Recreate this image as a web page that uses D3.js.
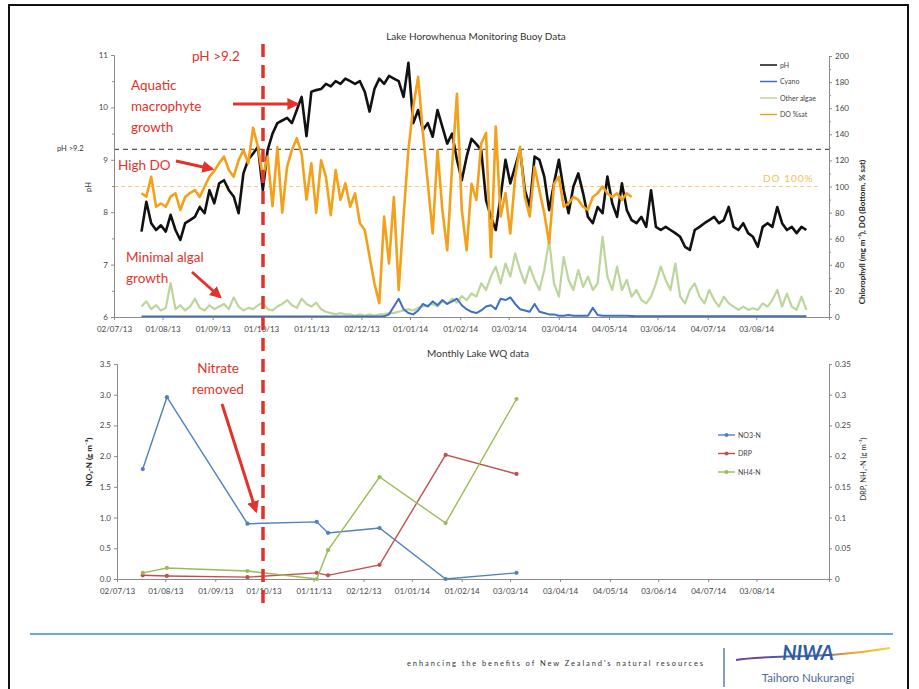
<!DOCTYPE html>
<html>
<head>
<meta charset="utf-8">
<script src="https://cdn.jsdelivr.net/npm/d3@7"></script>
<style>
  body { margin: 0; background: #fff; }
  text { font-family: Lato, 'Open Sans', sans-serif; }
  .axis path, .axis line { stroke: #8a8a8a; }
  .axis text { fill: #444; font-size: 8px; font-family: Lato, sans-serif; }
</style>
</head>
<body>
<div id="chart"></div>
<script>
const width = 919;
const height = 689;

// buoy series, one reading every 3 days from 19/07/13
const buoyStart = new Date(2013, 6, 19);
const buoyStepDays = 3;

const phValues = [
  7.63, 8.2, 7.79, 7.66, 7.75, 7.63, 7.95, 7.66, 7.47, 7.79,
  7.85, 7.91, 8.1, 7.98, 8.42, 8.17, 8.55, 8.61, 8.42, 8.3,
  7.98, 8.74, 9.0, 9.12, 9.25, 8.42, 9.19, 9.5, 9.7, 9.75,
  9.8, 9.7, 9.95, 10.2, 9.45, 10.3, 10.33, 10.35, 10.45, 10.4,
  10.5, 10.45, 10.55, 10.5, 10.45, 10.5, 10.3, 9.92, 10.35, 10.55,
  10.45, 10.6, 10.55, 10.5, 10.2, 10.85, 9.7, 9.95, 9.57, 9.7,
  9.44, 9.95, 9.63, 9.31, 9.5, 9.0, 8.61, 9.06, 9.4,
  9.3, 9.19, 8.23, 7.91, 7.66, 8.3, 9.0, 8.55, 8.87, 9.19,
  8.42, 8.1, 9.06, 9.0, 8.68, 8.04, 8.55, 9.0, 8.42, 7.98,
  8.49, 8.74, 8.36, 7.91, 7.79, 8.1, 7.98, 8.68, 8.17, 7.91,
  8.55, 8.04, 7.85, 7.79, 7.91, 7.72, 8.42, 7.72, 7.66, 7.72,
  7.66, 7.6, 7.53, 7.34, 7.28, 7.66, 7.72, 7.79, 7.85, 7.91,
  7.79, 7.85, 8.1, 7.72, 7.66, 7.79, 7.6, 7.53, 7.34, 7.72,
  7.79, 7.72, 8.1, 7.79, 7.66, 7.72, 7.6, 7.72, 7.66
];

const doValues = [
  94.8, 92.2, 107.5, 84.5, 87, 84.5, 92.2, 94.8, 82, 92,
  95, 97.3, 92, 100, 107.5, 112, 117.8, 122.9, 112.6, 107.5,
  120, 128, 117.8, 145, 130.5, 107.5, 122.9, 85, 130, 80,
  115, 128, 137, 125, 90, 117.8, 80, 120, 107.5, 78,
  112.6, 89.7, 102.4, 84.5, 94.8, 71.8, 66.7, 46.2, 25.8, 10.5,
  76.9, 41, 92, 20.7, 76.9, 128, 161, 184, 140.7, 102.4,
  64, 128, 82, 51, 115, 171, 82, 51, 102,
  89.7, 133, 141, 46, 146, 77, 95, 64, 107.5, 130.5,
  92, 77, 115, 97, 79.5, 56.5, 102, 107.5, 84.5, 87,
  92, 89.7, 84.5, 82, 92, 94.8, 100, 94.8, 92, 94.8,
  89.7, 94.8, 92
];

const algaeValues = [
  8, 12, 6, 9, 5, 7, 26, 6, 9, 5,
  8, 14, 7, 5, 9, 6, 8, 10, 6, 15,
  8, 5, 7, 6, 9, 11, 6, 5, 8, 10,
  13, 9, 7, 14, 10, 8, 11, 6, 4, 3,
  2, 3, 2, 2, 1, 2, 1, 2, 1, 2,
  2, 3, 3, 4, 5, 6, 5, 7, 8, 9,
  10, 8, 12, 10, 14, 11, 16, 13, 18,
  15.6, 25.8, 20.7, 31, 38.6, 25.8, 41, 31, 48.8, 36,
  25.8, 38.6, 28.4, 20.7, 36, 59, 25.8, 15.6, 46, 28.4,
  20.7, 36, 23, 31, 20.7, 25.8, 61.6, 31, 20.7, 38.6,
  20.7, 28.4, 15.6, 20.7, 13, 10.5, 15.6, 25.8, 38.6, 28.4,
  20.7, 41, 15.6, 10.5, 20.7, 25.8, 15.6, 10.5, 20.7, 13,
  8, 15.6, 10.5, 8, 5.4, 8, 5.4, 6.7, 5.4, 10.5,
  8, 13, 20.7, 8, 18, 8, 5.4, 15.6, 5.4
];

const cyanoValues = [
  0.4, 0.4, 0.4, 0.4, 0.4, 0.4, 0.4, 0.4, 0.4, 0.4,
  0.4, 0.4, 0.4, 0.4, 0.4, 0.4, 0.4, 0.4, 0.4, 0.4,
  0.4, 0.4, 0.4, 0.4, 0.4, 0.4, 0.4, 0.4, 0.4, 0.4,
  0.4, 0.4, 0.4, 0.4, 0.4, 0.4, 0.4, 0.4, 0.4, 0.4,
  0.4, 0.4, 0.4, 0.4, 0.4, 0.4, 0.4, 0.4, 0.4, 0.4,
  0.5, 2, 8, 14, 6, 3, 2, 5, 10, 8,
  12, 9, 13, 10, 12, 14, 9, 6, 4, 3,
  5, 8, 9, 6, 14, 13, 15, 10, 6, 5,
  4, 10, 4, 3, 2, 2, 1, 1, 1.5, 1,
  1, 1, 1, 7, 1.5, 1, 1, 1, 1, 1,
  1, 0.8, 0.6, 0.5, 0.5, 0.5, 0.5, 0.5, 0.5, 0.5,
  0.5, 0.5, 0.5, 0.5, 0.5, 0.5, 0.5, 0.5, 0.5, 0.5,
  0.5, 0.5, 0.5, 0.5, 0.5, 0.5, 0.5, 0.5, 0.5, 0.5,
  0.5, 0.5, 0.5, 0.5, 0.5, 0.5, 0.5, 0.5
];

// monthly water quality samples
const wqDates = ['18/07/13', '02/08/13', '21/09/13', '03/11/13', '10/11/13', '12/12/13', '22/01/14', '07/03/14'];
const no3Values = [1.79, 2.96, 0.90, 0.93, 0.75, 0.83, 0.00, 0.10];
const drpValues = [0.006, 0.005, 0.003, 0.010, 0.006, 0.023, 0.202, 0.171];
const nh4Values = [0.010, 0.018, 0.013, 0.000, 0.047, 0.166, 0.091, 0.293];

// tick labels
const dateTicks = ['02/07/13', '01/08/13', '01/09/13', '01/10/13', '01/11/13', '02/12/13', '01/01/14',
  '01/02/14', '03/03/14', '03/04/14', '04/05/14', '03/06/14', '04/07/14', '03/08/14'];
const phTicks = [6, 7, 8, 9, 10, 11];
const chlTicks = [0, 20, 40, 60, 80, 100, 120, 140, 160, 180, 200];
const no3Ticks = [0, 0.5, 1, 1.5, 2, 2.5, 3, 3.5];
const drpTicks = [0, 0.05, 0.1, 0.15, 0.2, 0.25, 0.3, 0.35];

const colorPH = '#111111';
const colorCyano = '#3f6fc2';
const colorAlgae = '#bcd59a';
const colorDO = '#f5a01a';
const colorNO3 = '#4f81bd';
const colorDRP = '#c0504d';
const colorNH4 = '#9bbb59';
const colorRed = '#e4322b';

const parseDate = d3.timeParse('%d/%m/%y');
const fmtDate = d3.timeFormat('%d/%m/%y');
const tickDates = dateTicks.map(parseDate);
const buoyDate = i => d3.timeDay.offset(buoyStart, i * buoyStepDays);

const svg = d3.select('#chart')
    .append('svg')
    .attr('width', width)
    .attr('height', height);

svg.append('rect').attr('width', width).attr('height', height).attr('fill', '#fff');

const defs = svg.append('defs');
defs.append('marker')
    .attr('id', 'arrow')
    .attr('viewBox', '0 0 10 10')
    .attr('refX', 8).attr('refY', 5)
    .attr('markerWidth', 4).attr('markerHeight', 4)
    .attr('orient', 'auto')
  .append('path')
    .attr('d', 'M0,0 L10,5 L0,10 z')
    .attr('fill', colorRed);

// slide frame
svg.append('rect')
    .attr('x', 9).attr('y', 5)
    .attr('width', 899).attr('height', 700)
    .attr('fill', 'none')
    .attr('stroke', '#111')
    .attr('stroke-width', 2);

const timeDomain = [new Date(2013, 6, 2), new Date(2014, 8, 17)];

function minorBetween(values) {
  const out = [];
  for (let i = 0; i < values.length - 1; i++) out.push((values[i] + values[i + 1]) / 2);
  return out;
}

function styleAxis(g) {
  g.select('.domain').attr('stroke', '#8a8a8a');
  g.selectAll('.tick line').attr('stroke', '#8a8a8a');
}

// ---------------- top chart ----------------
const xTop = d3.scaleTime().domain(timeDomain).range([114, 829]);
const yPH = d3.scaleLinear().domain([6, 11]).range([317, 55]);
const yChl = d3.scaleLinear().domain([0, 200]).range([317, 56]);

svg.append('text')
    .attr('x', 476).attr('y', 40)
    .attr('text-anchor', 'middle')
    .attr('font-size', 10)
    .attr('fill', '#333')
    .text('Lake Horowhenua Monitoring Buoy Data');

// reference lines
svg.append('line')
    .attr('x1', xTop.range()[0]).attr('x2', xTop.range()[1])
    .attr('y1', yPH(9.2)).attr('y2', yPH(9.2))
    .attr('stroke', '#555').attr('stroke-width', 1.2)
    .attr('stroke-dasharray', '5,4');

svg.append('line')
    .attr('x1', xTop.range()[0]).attr('x2', 818)
    .attr('y1', yChl(100)).attr('y2', yChl(100))
    .attr('stroke', '#f7c98a').attr('stroke-width', 1.2)
    .attr('stroke-dasharray', '4,3');

svg.append('text')
    .attr('x', 57).attr('y', yPH(9.2) + 2)
    .attr('font-size', 7.5).attr('fill', '#333')
    .text('pH >9.2');

svg.append('text')
    .attr('x', 763).attr('y', yChl(100) - 5)
    .attr('font-size', 10).attr('letter-spacing', 1)
    .attr('fill', '#ecc253')
    .text('DO 100%');

const linePH = d3.line().x((d, i) => xTop(buoyDate(i))).y(d => yPH(d));
const lineChl = d3.line().x((d, i) => xTop(buoyDate(i))).y(d => yChl(d));

svg.append('path').datum(phValues)
    .attr('d', linePH).attr('fill', 'none')
    .attr('stroke', colorPH).attr('stroke-width', 2.6).attr('stroke-linejoin', 'round');

svg.append('path').datum(algaeValues)
    .attr('d', lineChl).attr('fill', 'none')
    .attr('stroke', colorAlgae).attr('stroke-width', 2.2).attr('stroke-linejoin', 'round');

svg.append('path').datum(cyanoValues)
    .attr('d', lineChl).attr('fill', 'none')
    .attr('stroke', colorCyano).attr('stroke-width', 2).attr('stroke-linejoin', 'round');

svg.append('path').datum(doValues)
    .attr('d', lineChl).attr('fill', 'none')
    .attr('stroke', colorDO).attr('stroke-width', 2.6).attr('stroke-linejoin', 'round');

// axes
svg.append('g').attr('class', 'axis')
    .attr('transform', 'translate(' + xTop.range()[0] + ',0)')
    .call(d3.axisLeft(yPH).tickValues(phTicks).tickSize(3).tickFormat(d3.format('d')))
    .call(styleAxis);
svg.append('g').attr('class', 'axis')
    .attr('transform', 'translate(' + xTop.range()[0] + ',0)')
    .call(d3.axisLeft(yPH).tickValues(minorBetween(phTicks)).tickSize(2).tickFormat(''))
    .call(g => g.select('.domain').remove())
    .call(styleAxis);

svg.append('g').attr('class', 'axis')
    .attr('transform', 'translate(829,0)')
    .call(d3.axisRight(yChl).tickValues(chlTicks).tickSize(3))
    .call(styleAxis);
svg.append('g').attr('class', 'axis')
    .attr('transform', 'translate(829,0)')
    .call(d3.axisRight(yChl).tickValues(minorBetween(chlTicks)).tickSize(2).tickFormat(''))
    .call(g => g.select('.domain').remove())
    .call(styleAxis);

svg.append('g').attr('class', 'axis')
    .attr('transform', 'translate(0,317)')
    .call(d3.axisBottom(xTop).tickValues(tickDates).tickSize(3).tickFormat(fmtDate))
    .call(styleAxis)
    .call(g => g.selectAll('text').attr('dy', '1.1em'));

svg.append('text')
    .attr('transform', 'translate(91,187) rotate(-90)')
    .attr('text-anchor', 'middle')
    .attr('font-size', 7.5).attr('fill', '#333')
    .text('pH');

svg.append('text')
    .attr('transform', 'translate(865,232) rotate(-90)')
    .attr('text-anchor', 'middle')
    .attr('font-size', 8).attr('font-weight', 'bold').attr('fill', '#222')
    .text('Chlorophyll (mg m⁻³), DO (Bottom, % sat)');

// top legend
const topLegend = [
  { name: 'pH', color: colorPH },
  { name: 'Cyano', color: colorCyano },
  { name: 'Other algae', color: colorAlgae },
  { name: 'DO %sat', color: colorDO }
];
const tl = svg.append('g').selectAll('g').data(topLegend).enter().append('g')
    .attr('transform', (d, i) => 'translate(760,' + (65 + i * 16.5) + ')');
tl.append('line').attr('x1', 0).attr('x2', 17)
    .attr('stroke', d => d.color).attr('stroke-width', 1.5);
tl.append('text').attr('x', 20).attr('y', 2.5)
    .attr('font-size', 7).attr('fill', '#444')
    .text(d => d.name);

// ---------------- bottom chart ----------------
const xBot = d3.scaleTime().domain(timeDomain).range([117, 829]);
const yNO3 = d3.scaleLinear().domain([0, 3.5]).range([579, 364]);
const yDRP = d3.scaleLinear().domain([0, 0.35]).range([579, 364]);
const wqTimes = wqDates.map(parseDate);

svg.append('text')
    .attr('x', 478).attr('y', 357)
    .attr('text-anchor', 'middle')
    .attr('font-size', 10)
    .attr('fill', '#333')
    .text('Monthly Lake WQ data');

svg.append('g').attr('class', 'axis')
    .attr('transform', 'translate(117,0)')
    .call(d3.axisLeft(yNO3).tickValues(no3Ticks).tickSize(3).tickFormat(d3.format('.1f')))
    .call(styleAxis);
svg.append('g').attr('class', 'axis')
    .attr('transform', 'translate(829,0)')
    .call(d3.axisRight(yDRP).tickValues(drpTicks).tickSize(3).tickFormat(d => d === 0 ? '0' : d3.format('~g')(d)))
    .call(styleAxis);
svg.append('g').attr('class', 'axis')
    .attr('transform', 'translate(0,579)')
    .call(d3.axisBottom(xBot).tickValues(tickDates).tickSize(3).tickFormat(fmtDate))
    .call(styleAxis)
    .call(g => g.selectAll('text').attr('dy', '1.1em'));

const wqSeries = [
  { name: 'NO3-N', color: colorNO3, values: no3Values, y: yNO3 },
  { name: 'DRP', color: colorDRP, values: drpValues, y: yDRP },
  { name: 'NH4-N', color: colorNH4, values: nh4Values, y: yDRP }
];

wqSeries.forEach(s => {
  const line = d3.line().x((d, i) => xBot(wqTimes[i])).y(d => s.y(d));
  svg.append('path').datum(s.values)
      .attr('d', line).attr('fill', 'none')
      .attr('stroke', s.color).attr('stroke-width', 1.4);
  svg.append('g').selectAll('circle').data(s.values).enter().append('circle')
      .attr('cx', (d, i) => xBot(wqTimes[i]))
      .attr('cy', d => s.y(d))
      .attr('r', 2.1)
      .attr('fill', s.color);
});

const bl = svg.append('g').selectAll('g').data(wqSeries).enter().append('g')
    .attr('transform', (d, i) => 'translate(718,' + (435 + i * 18.5) + ')');
bl.append('line').attr('x1', 0).attr('x2', 17)
    .attr('stroke', d => d.color).attr('stroke-width', 1.4);
bl.append('circle').attr('cx', 8.5).attr('r', 2).attr('fill', d => d.color);
bl.append('text').attr('x', 20).attr('y', 2.5)
    .attr('font-size', 7).attr('fill', '#444')
    .text(d => d.name);

svg.append('text')
    .attr('transform', 'translate(92,462) rotate(-90)')
    .attr('text-anchor', 'middle')
    .attr('font-size', 8).attr('font-weight', 'bold').attr('fill', '#222')
    .text('NO₃-N (g m⁻³)');

svg.append('text')
    .attr('transform', 'translate(866,469) rotate(-90)')
    .attr('text-anchor', 'middle')
    .attr('font-size', 7.5).attr('fill', '#333')
    .text('DRP, NH₄-N (g m⁻³)');

// ---------------- annotations ----------------
svg.append('line')
    .attr('x1', 263).attr('x2', 263)
    .attr('y1', 44).attr('y2', 606)
    .attr('stroke', colorRed).attr('stroke-width', 3.5)
    .attr('stroke-dasharray', '13,8');

function redText(lines, x, y, anchor) {
  const t = svg.append('text')
      .attr('x', x).attr('y', y)
      .attr('text-anchor', anchor || 'start')
      .attr('font-size', 13.5)
      .attr('fill', colorRed);
  lines.forEach((l, i) => t.append('tspan').attr('x', x).attr('dy', i === 0 ? 0 : 21).text(l));
}

function redArrow(x1, y1, x2, y2) {
  svg.append('line')
      .attr('x1', x1).attr('y1', y1).attr('x2', x2).attr('y2', y2)
      .attr('stroke', colorRed).attr('stroke-width', 3)
      .attr('marker-end', 'url(#arrow)');
}

redText(['pH >9.2'], 192, 61);
redText(['Aquatic', 'macrophyte', 'growth'], 131, 90);
redArrow(233, 104, 297, 104);
redText(['High DO'], 118, 170);
redArrow(176, 161, 212, 169);
redText(['Minimal algal', 'growth'], 126, 262);
redArrow(192, 272, 220, 297);
redText(['Nitrate', 'removed'], 218, 373, 'middle');
redArrow(222, 404, 256, 511);

// ---------------- footer ----------------
svg.append('line')
    .attr('x1', 30).attr('x2', 893)
    .attr('y1', 634).attr('y2', 634)
    .attr('stroke', '#3d8cc6').attr('stroke-width', 1.6);

svg.append('text')
    .attr('x', 407).attr('y', 666)
    .attr('font-size', 7.5).attr('fill', '#333')
    .attr('textLength', 296).attr('lengthAdjust', 'spacing')
    .text("enhancing  the benefits  of  New Zealand's  natural  resources");

svg.append('line')
    .attr('x1', 724).attr('x2', 724)
    .attr('y1', 648).attr('y2', 687)
    .attr('stroke', '#3a5f8a').attr('stroke-width', 1.2);

const grad = defs.append('linearGradient').attr('id', 'swoosh');
grad.append('stop').attr('offset', '0%').attr('stop-color', '#7a3a8a');
grad.append('stop').attr('offset', '45%').attr('stop-color', '#3a6ab8');
grad.append('stop').attr('offset', '75%').attr('stop-color', '#f0a030');
grad.append('stop').attr('offset', '100%').attr('stop-color', '#f4d040');

svg.append('path')
    .attr('d', 'M736,660 C770,654 820,660 890,648')
    .attr('fill', 'none')
    .attr('stroke', 'url(#swoosh)').attr('stroke-width', 2);

svg.append('text')
    .attr('x', 808).attr('y', 660)
    .attr('text-anchor', 'middle')
    .attr('font-family', "'Liberation Serif', serif")
    .attr('font-style', 'italic').attr('font-weight', 'bold')
    .attr('font-size', 20).attr('fill', '#2d5ca6')
    .text('NIWA');

svg.append('text')
    .attr('x', 808).attr('y', 682)
    .attr('text-anchor', 'middle')
    .attr('font-family', "'Liberation Serif', serif")
    .attr('font-size', 11.5).attr('fill', '#4d6b95')
    .text('Taihoro Nukurangi');
</script>
</body>
</html>
